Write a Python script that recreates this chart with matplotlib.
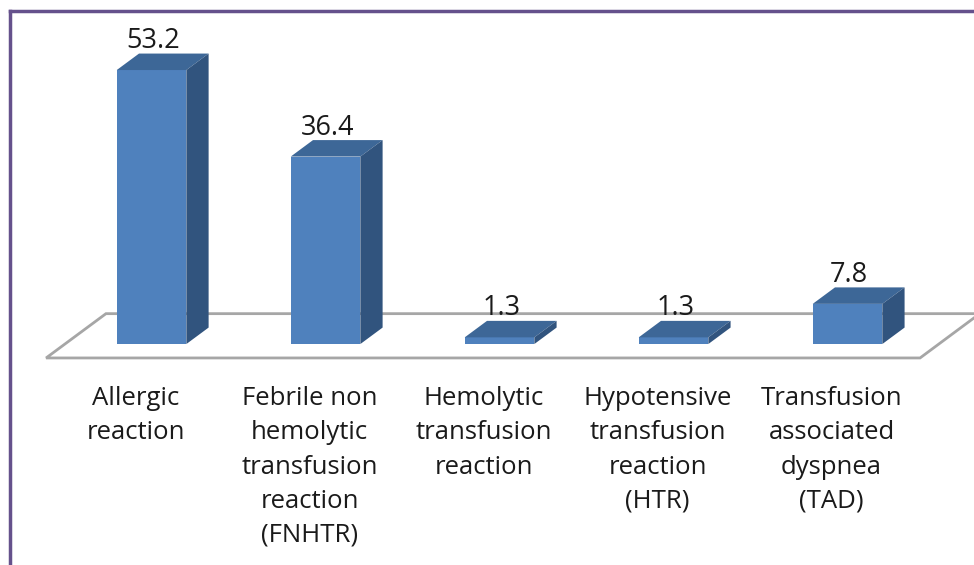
import matplotlib
matplotlib.use("Agg")
import matplotlib.pyplot as plt
from matplotlib.patches import Polygon, Rectangle
from matplotlib.lines import Line2D

categories = [
    "Allergic\nreaction",
    "Febrile non\nhemolytic\ntransfusion\nreaction\n(FNHTR)",
    "Hemolytic\ntransfusion\nreaction",
    "Hypotensive\ntransfusion\nreaction\n(HTR)",
    "Transfusion\nassociated\ndyspnea\n(TAD)",
]
values = [53.2, 36.4, 1.3, 1.3, 7.8]
value_labels = ["53.2", "36.4", "1.3", "1.3", "7.8"]

FRONT = "#4f81bd"
TOP = "#3d6797"
SIDE = "#31547e"
FLOOR = "#a6a6a6"
FRAME = "#65518c"

plt.rcParams["font.family"] = ["Open Sans", "DejaVu Sans"]

fig = plt.figure(figsize=(9.74, 5.65), dpi=100)
ax = fig.add_axes([0, 0, 1, 1])
ax.set_xlim(-0.871, 4.727)
ax.set_ylim(-42.9, 66.8)
ax.axis("off")

width = 0.40      # bar width in category units
ddx = 0.128       # depth offset, x
ddy = 3.2         # depth offset, y (value units)

# floor parallelogram
n = len(values)
fl = [(-0.606, -2.7), (n - 1 + 0.417, -2.7), (n - 1 + 0.76, 5.9), (-0.262, 5.9)]
ax.add_patch(Polygon(fl, closed=True, facecolor="white", edgecolor=FLOOR,
                     linewidth=2, zorder=1, clip_on=False))

for i, v in enumerate(values):
    x0 = i - width / 2
    x1 = i + width / 2
    ax.add_patch(Rectangle((x0, 0), width, v, facecolor=FRONT,
                           edgecolor="none", zorder=3))
    ax.add_patch(Polygon([(x0, v), (x1, v), (x1 + ddx, v + ddy), (x0 + ddx, v + ddy)],
                         facecolor=TOP, edgecolor="none", zorder=3))
    ax.add_patch(Polygon([(x1, 0), (x1 + ddx, ddy), (x1 + ddx, v + ddy), (x1, v)],
                         facecolor=SIDE, edgecolor="none", zorder=3))
    ax.text(i + 0.01, v + ddy - 0.3, value_labels[i], ha="center", va="bottom",
            fontsize=19.5, color="#1a1a1a", zorder=4)
    ax.text(i - 0.092, -8.2, categories[i], ha="center", va="top",
            fontsize=18.5, color="#1a1a1a", linespacing=1.48)

# purple outer frame (only top and left visible)
fig.add_artist(Line2D([10 / 974, 10 / 974], [-0.1, 1 - 11 / 565],
                      transform=fig.transFigure, color=FRAME, linewidth=2.5))
fig.add_artist(Line2D([10 / 974, 1.1], [1 - 11 / 565, 1 - 11 / 565],
                      transform=fig.transFigure, color=FRAME, linewidth=2.5))

fig.savefig("out.png", dpi=100)
